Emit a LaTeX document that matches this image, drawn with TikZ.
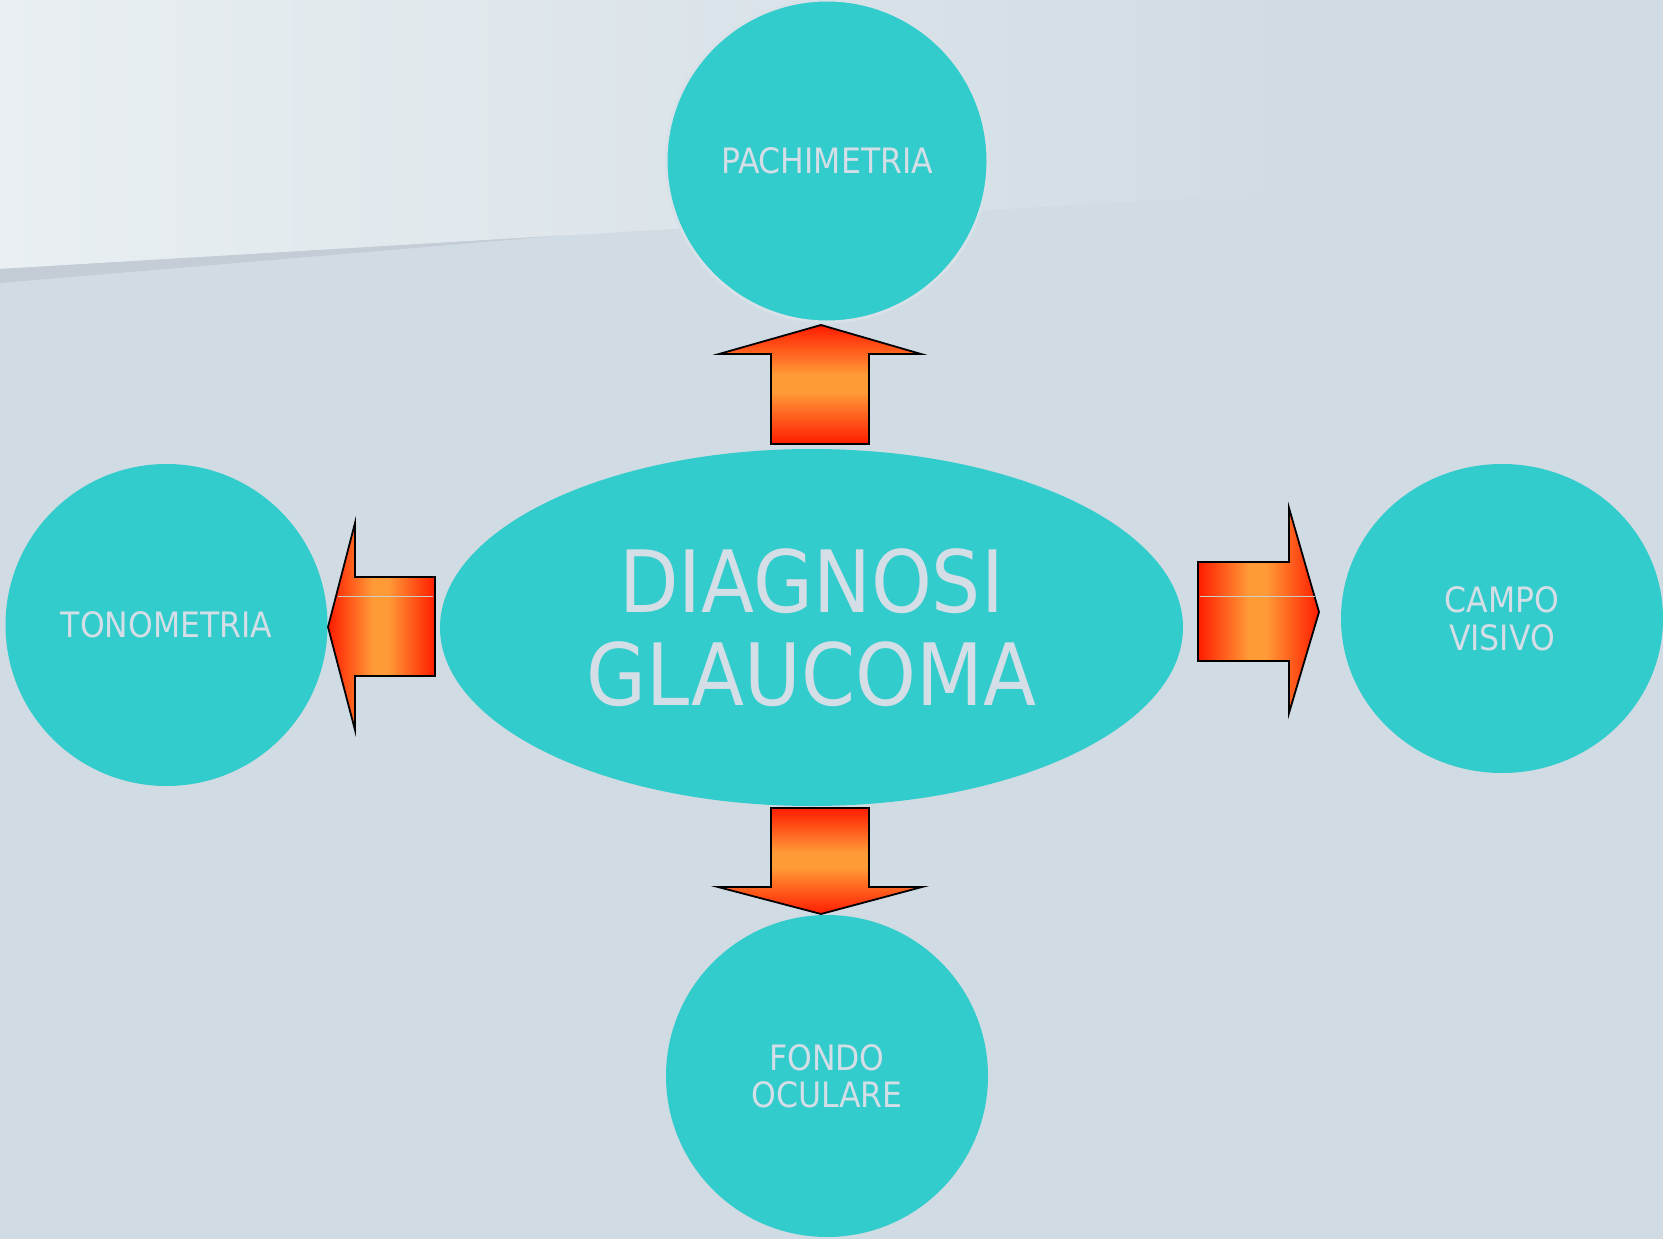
\documentclass[tikz,border=0pt]{standalone}
\usepackage{fontspec}
\setmainfont{DejaVu Sans}[FakeStretch=0.9]
\usetikzlibrary{shapes.geometric}
\definecolor{bg}{RGB}{208,219,227}
\definecolor{bandc}{RGB}{233,239,242}
\definecolor{shadowc}{RGB}{196,205,214}
\definecolor{cyanfill}{RGB}{51,204,204}
\definecolor{txt}{RGB}{212,222,230}
\definecolor{ringc}{RGB}{216,225,232}
\definecolor{ared}{RGB}{255,28,0}
\definecolor{aorange}{RGB}{255,155,55}
\definecolor{glint}{RGB}{205,205,200}
\pgfdeclareverticalshading{vgrad}{100bp}{color(0bp)=(ared); color(25bp)=(ared); color(47bp)=(aorange); color(54bp)=(aorange); color(75bp)=(ared); color(100bp)=(ared)}
\pgfdeclarehorizontalshading{hgrad}{100bp}{color(0bp)=(ared); color(25bp)=(ared); color(46bp)=(aorange); color(53bp)=(aorange); color(75bp)=(ared); color(100bp)=(ared)}
\pgfdeclarehorizontalshading{bandgrad}{100bp}{color(0bp)=(bandc); color(25bp)=(bandc); color(64bp)=(bg); color(100bp)=(bg)}
\begin{document}
\begin{tikzpicture}[x=1pt,y=-1pt,
  bubble/.style={circle, fill=cyanfill, inner sep=0pt, minimum size=322pt, text=txt,
    font=\fontsize{35}{38}\selectfont, align=center},
  vshade/.style={draw=black, line width=1.8pt, shading=vgrad},
  hshade/.style={draw=black, line width=1.8pt, shading=hgrad},
  glintline/.style={draw=glint, line width=1pt}]
\useasboundingbox (0,0) rectangle (1663,1239);
\fill[bg] (0,0) rectangle (1663,1239);
\shade[shading=bandgrad] (0,0) -- (1663,0) -- (1663,170) -- (0,269) -- cycle;
\fill[shadowc] (0,269) -- (562,235.5) -- (0,283) -- cycle;

\node[bubble, draw=ringc, line width=3pt] (pach) at (827,161) {PACHIMETRIA};
\node[bubble] (tono) at (166.5,625) {TONOMETRIA};
\node[bubble, ellipse, minimum width=322pt, minimum height=309pt] (campo) at (1502,618.5) {CAMPO\\VISIVO};
\node[bubble, font=\fontsize{35}{37}\selectfont] (fondo) at (827,1076) {FONDO\\OCULARE};
\node[ellipse, fill=cyanfill, inner sep=0pt, minimum width=743pt, minimum height=357pt, text=txt,
  font=\fontsize{86}{93}\selectfont, align=center] (diag) at (811.5,627.5) {DIAGNOSI\\GLAUCOMA};

% up arrow
\draw[vshade] (771,444) -- (771,354) -- (719,354) -- (821,325) -- (921,354) -- (869,354) -- (869,444) -- cycle;
% down arrow
\draw[vshade] (771,808) -- (869,808) -- (869,887) -- (922,887) -- (821,914) -- (718,887) -- (771,887) -- cycle;
% left arrow
\draw[hshade] (435,577) -- (435,676) -- (355,676) -- (355,730) -- (328,627) -- (355,523) -- (355,577) -- cycle;
\draw[glintline] (338,596) -- (433,596);
% right arrow
\draw[hshade] (1198,562) -- (1289,562) -- (1289,508) -- (1319,612) -- (1289,713) -- (1289,661) -- (1198,661) -- cycle;
\draw[glintline] (1200,596) -- (1315,596);
\end{tikzpicture}
\end{document}
